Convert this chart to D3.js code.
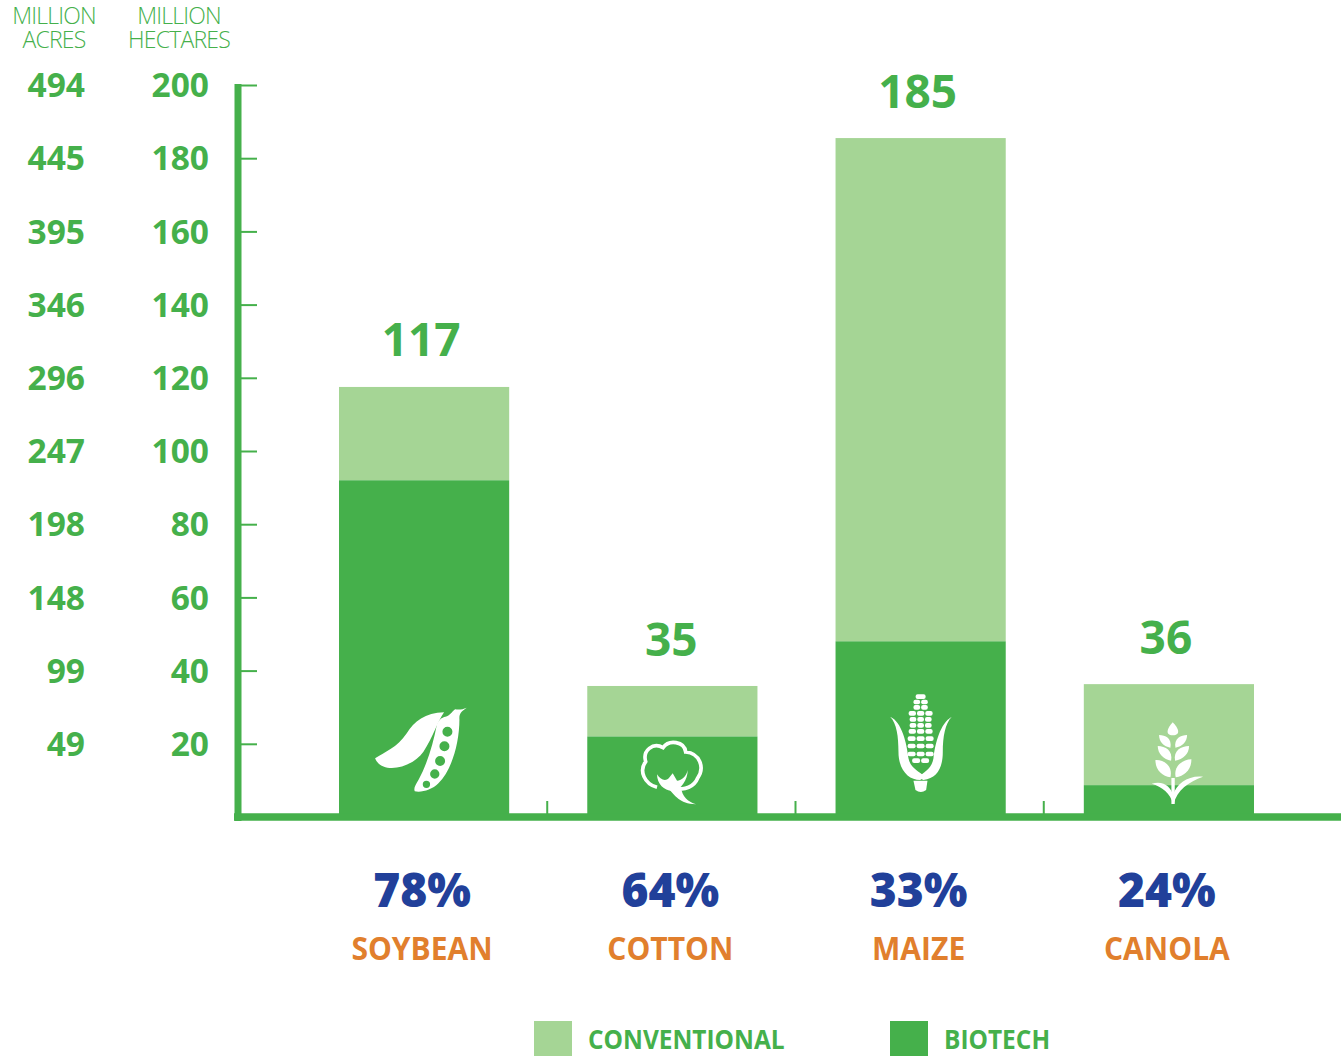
<!DOCTYPE html>
<html lang="en">
<head>
<meta charset="UTF-8">
<title>Biotech crop area</title>
<script src="https://d3js.org/d3.v7.min.js"></script>
<style>
  html, body { margin: 0; padding: 0; background: #fff; }
  svg { display: block; font-family: "Open Sans", sans-serif; }
  .domain { display: none; }
</style>
</head>
<body>
<div id="chart"></div>
<script>
const crops = ['SOYBEAN', 'COTTON', 'MAIZE', 'CANOLA'];
const totals = [117.5, 35.8, 185.5, 36.3];
const biotech = [92, 22, 48, 8.7];
const totalLabels = ['117', '35', '185', '36'];
const shares = ['78%', '64%', '33%', '24%'];
const hectareTicks = [20, 40, 60, 80, 100, 120, 140, 160, 180, 200];
const acreLabels = ['49', '99', '148', '198', '247', '296', '346', '395', '445', '494'];

const w = 1341, h = 1056;
const green = '#45b04b', light = '#a5d595', blue = '#21409a', orange = '#e17f2d';

const svg = d3.select('#chart').append('svg').attr('width', w).attr('height', h);

const y = d3.scaleLinear().domain([0, 200]).range([817, 85]);
const x = d3.scaleBand().domain(crops).range([339, 1254]).paddingInner(0.3145);
const gap = x.step() - x.bandwidth();

// the original type is narrower than Open Sans, so squeeze it
function squeeze(sel, k) {
  sel.each(function () {
    this.setAttribute('textLength', this.getComputedTextLength() * k);
    this.setAttribute('lengthAdjust', 'spacingAndGlyphs');
  });
}

// bars
const bars = svg.selectAll('g.crop').data(crops).enter().append('g').attr('class', 'crop');
bars.append('rect')
    .attr('x', d => x(d)).attr('width', x.bandwidth())
    .attr('y', (d, i) => y(totals[i]))
    .attr('height', (d, i) => y(biotech[i]) - y(totals[i]))
    .attr('fill', light);
bars.append('rect')
    .attr('x', d => x(d)).attr('width', x.bandwidth())
    .attr('y', (d, i) => y(biotech[i]))
    .attr('height', (d, i) => y(0) - y(biotech[i]))
    .attr('fill', green);

// axes
svg.append('g').attr('transform', 'translate(238,0)')
    .call(d3.axisRight(y).tickValues(hectareTicks).tickSize(19).tickFormat(''))
    .call(g => g.selectAll('line').attr('stroke', green).attr('stroke-width', 2));
svg.append('line').attr('x1', 238).attr('x2', 238).attr('y1', 84).attr('y2', 821)
    .attr('stroke', green).attr('stroke-width', 7);
svg.append('line').attr('x1', 234).attr('x2', w).attr('y1', y(0)).attr('y2', y(0))
    .attr('stroke', green).attr('stroke-width', 7.5);
svg.selectAll('line.sep').data(crops.slice(1)).enter().append('line')
    .attr('class', 'sep')
    .attr('x1', d => x(d) - gap / 2 - 1).attr('x2', d => x(d) - gap / 2 - 1)
    .attr('y1', 801).attr('y2', y(0))
    .attr('stroke', green).attr('stroke-width', 2);

function labelAxis(xPos, fmt) {
  svg.append('g').attr('transform', `translate(${xPos},1)`)
    .call(d3.axisLeft(y).tickValues(hectareTicks).tickSize(0).tickPadding(0).tickFormat(fmt))
    .call(g => g.selectAll('line').remove())
    .call(g => g.selectAll('text')
        .attr('font-family', '"Open Sans", sans-serif')
        .attr('font-size', 33.5).attr('font-weight', 700).attr('fill', green));
}
labelAxis(209, d => d);
labelAxis(85, d => acreLabels[hectareTicks.indexOf(d)]);

// column headers
[[55, 'MILLION', 'ACRES'], [180, 'MILLION', 'HECTARES']].forEach(c => {
  const t = svg.append('text').attr('text-anchor', 'middle').attr('font-size', 23)
    .attr('font-weight', 300).attr('letter-spacing', -0.8).attr('fill', green);
  [c[1], c[2]].forEach((s, i) => {
    t.append('tspan').text(s).attr('x', c[0] - 1).attr('y', 24 + i * 23.5);
  });
});

// labels
svg.selectAll('text.total').data(totalLabels).enter().append('text')
    .attr('class', 'total').text(d => d)
    .attr('x', (d, i) => x(crops[i]) + x.bandwidth() / 2 + (i === 1 ? -1 : -3))
    .attr('y', (d, i) => y(totals[i]) - (i === 0 ? 31 : 30))
    .attr('text-anchor', 'middle').attr('font-size', 46).attr('font-weight', 700).attr('fill', green);
svg.selectAll('text.share').data(shares).enter().append('text')
    .attr('class', 'share').text(d => d)
    .attr('x', (d, i) => x(crops[i]) + x.bandwidth() / 2 - 2)
    .attr('y', 907)
    .attr('text-anchor', 'middle').attr('font-size', 48).attr('font-weight', 800).attr('fill', blue)
    .call(squeeze, 0.96);
svg.selectAll('text.crop-name').data(crops).enter().append('text')
    .attr('class', 'crop-name').text(d => d)
    .attr('x', d => x(d) + x.bandwidth() / 2 - 2)
    .attr('y', 960)
    .attr('text-anchor', 'middle').attr('font-size', 33).attr('font-weight', 700).attr('fill', orange)
    .call(squeeze, 0.91);

// legend
const legend = [['CONVENTIONAL', light, 534], ['BIOTECH', green, 890]];
legend.forEach(l => {
  svg.append('rect').attr('x', l[2]).attr('y', 1021).attr('width', 38).attr('height', 36).attr('fill', l[1]);
  svg.append('text').text(l[0]).attr('x', l[2] + 54).attr('y', 1049)
    .attr('font-size', 26).attr('font-weight', 700).attr('fill', green)
    .call(squeeze, 0.94);
});

// crop icons, drawn in a 3x grid around the bar foot
const icons = {
  SOYBEAN: { ox: 252, fn: g => {
    g.append('path').attr('d', 'M105 235 C135 215 170 205 200 160 C222 125 255 98 312 97 C292 125 280 170 250 215 C215 265 125 285 105 235Z');
    g.append('path').attr('fill-rule', 'evenodd').attr('d',
      'M316 110 C330 108 335 95 345 88 C358 90 368 88 380 83 C368 92 356 98 358 118 C358 190 335 270 295 310 C275 330 245 338 224 334 C220 325 226 315 235 300 C260 255 280 190 290 135 C295 120 305 112 316 110Z' +
      [[322, 155, 15], [313, 199, 15], [300, 243, 15], [284, 282, 14], [259, 313, 11]]
        .map(c => `M${c[0] - c[2]} ${c[1]}a${c[2]} ${c[2]} 0 1 0 ${2 * c[2]} 0a${c[2]} ${c[2]} 0 1 0 ${-2 * c[2]} 0Z`).join(''));
  }},
  COTTON: { ox: 996, fn: g => {
    g.append('path').attr('fill', 'none').attr('stroke', '#fff').attr('stroke-width', 11)
      .attr('d', 'M950 322 C912 312 895 272 916 245 C906 212 938 186 968 203 C985 178 1032 183 1036 216 C1078 220 1094 262 1072 294 C1062 320 1030 332 1012 324');
    g.append('path').attr('d', 'M950 283 C958 298 975 305 985 295 L997 280 L1010 302 C1025 302 1038 288 1042 270 C1042 300 1022 328 1000 332 C975 335 950 315 950 283Z');
    g.append('path').attr('d', 'M985 328 C1005 345 1015 372 1067 373 C1042 365 1025 350 1022 322Z');
  }},
  MAIZE: { ox: 271.5, fn: g => {
    const rows = [[50, 30, 1], [66, 20, 2], [82, 20, 2], [100, 22, 3], [118, 20, 3], [136, 20, 3], [154, 22, 3], [176, 24, 3], [198, 24, 3], [222, 24, 3], [242, 24, 2]];
    rows.forEach(r => {
      const n = r[2], step = r[1] + 3;
      d3.range(n).forEach(k => {
        g.append('rect').attr('x', 271.5 + (k - (n - 1) / 2) * step - r[1] / 2).attr('y', r[0] - 7)
          .attr('width', r[1]).attr('height', 14).attr('rx', 6);
      });
    });
    g.append('path').attr('d', 'M180 110 C215 125 230 190 235 235 C240 262 262 272 285 290 L270 300 C235 300 205 270 205 215 C205 170 200 130 180 110Z');
    g.append('path').attr('d', 'M365 110 C330 130 315 190 310 235 C305 265 285 275 262 292 L280 300 C320 295 338 265 338 215 C338 170 345 130 365 110Z');
    g.append('path').attr('d', 'M250 302 L292 302 L288 330 Q272 342 256 330Z');
  }},
  CANOLA: { ox: 1015.5, fn: g => {
    g.append('path').attr('d', 'M1027 127 C1045 145 1052 166 1027 166 C1003 166 1010 145 1027 127Z');
    g.append('path').attr('d', 'M986 165 C1005 165 1025 175 1020 203 C1000 200 986 185 986 165Z');
    g.append('path').attr('d', 'M1070 165 C1052 165 1030 175 1035 203 C1055 200 1070 185 1070 165Z');
    g.append('path').attr('d', 'M982 198 C1005 198 1028 212 1022 242 C1000 238 982 222 982 198Z');
    g.append('path').attr('d', 'M1076 198 C1052 198 1028 212 1034 242 C1058 238 1076 222 1076 198Z');
    g.append('path').attr('d', 'M975 240 C1000 238 1028 258 1020 292 C995 288 975 270 975 240Z');
    g.append('path').attr('d', 'M1083 238 C1058 238 1028 258 1036 292 C1062 288 1083 270 1083 238Z');
    g.append('rect').attr('x', 1023).attr('y', 294).attr('width', 10).attr('height', 78);
    g.append('path').attr('d', 'M964 311 C1000 300 1022 322 1028 345 L1028 372 C1020 340 995 320 964 311Z');
    g.append('path').attr('d', 'M1118 290 C1075 285 1038 310 1028 345 L1030 372 C1040 330 1075 305 1118 290Z');
  }}
};
crops.forEach(c => {
  const g = svg.append('g').attr('fill', '#fff')
    .attr('transform', `translate(${x(c) + x.bandwidth() / 2},${y(0)}) scale(${1 / 3}) translate(${-icons[c].ox},-411)`);
  icons[c].fn(g);
});
</script>
</body>
</html>
